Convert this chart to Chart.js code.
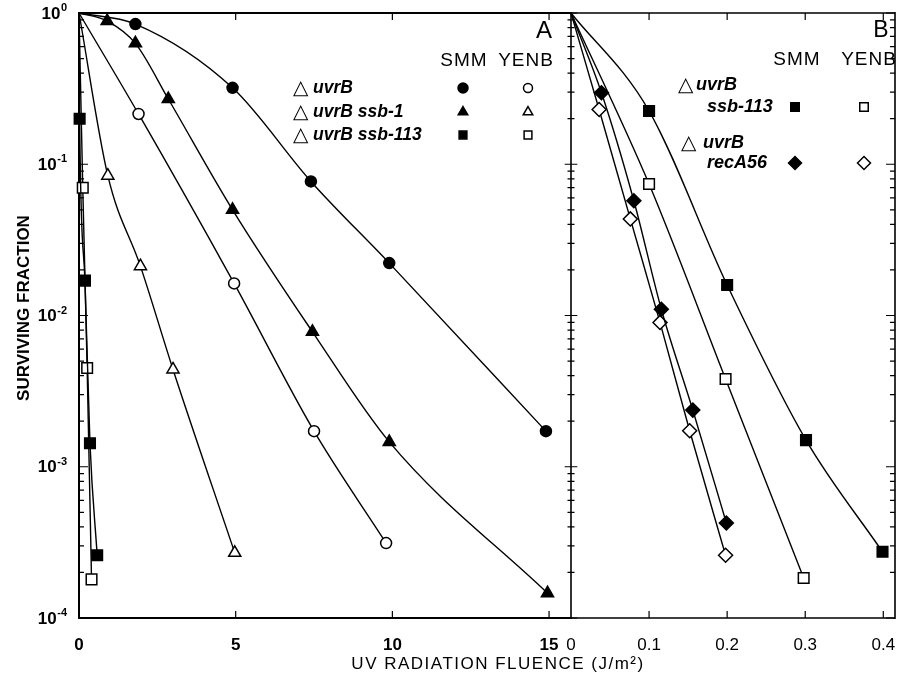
<!DOCTYPE html>
<html>
<head>
<meta charset="utf-8">
<script src="https://cdn.jsdelivr.net/npm/chart.js@4.4.1/dist/chart.umd.min.js"></script>
<style>
  html, body { margin: 0; padding: 0; background: #fff; }
  #wrap { position: relative; width: 904px; height: 679px; }
  #wrap canvas { position: absolute; left: 0; top: 0; }
</style>
</head>
<body>
<div id="wrap">
  <canvas id="cA" width="904" height="679"></canvas>
  <canvas id="cB" width="904" height="679"></canvas>
</div>
<script>
// ── Panel A: survival vs UV fluence (J/m²) ──────────────────────────────────
const uvrbSmmDose   = [0, 1.8, 4.9, 7.4, 9.9, 14.9];
const uvrbSmmSurv   = [1, 0.845, 0.32, 0.077, 0.0222, 0.00172];
const uvrbYenbDose  = [0, 1.9, 4.95, 7.5, 9.8];
const uvrbYenbSurv  = [1, 0.215, 0.0163, 0.00172, 0.000313];
const ssb1SmmDose   = [0, 0.9, 1.8, 2.85, 4.9, 7.45, 9.9, 14.95];
const ssb1SmmSurv   = [1, 0.885, 0.63, 0.27, 0.05, 0.0078, 0.00146, 0.000146];
const ssb1YenbDose  = [0, 0.92, 1.96, 3.0, 4.97];
const ssb1YenbSurv  = [1, 0.084, 0.0212, 0.0044, 0.00027];
const ssb113SmmDose = [0, 0.02, 0.19, 0.35, 0.58];
const ssb113SmmSurv = [1, 0.2, 0.017, 0.00143, 0.00026];
const ssb113YenbDose = [0, 0.12, 0.26, 0.4];
const ssb113YenbSurv = [1, 0.07, 0.0045, 0.00018];

// ── Panel B ─────────────────────────────────────────────────────────────────
const bSsbSmmDose   = [0, 0.1, 0.2, 0.301, 0.399];
const bSsbSmmSurv   = [1, 0.225, 0.0159, 0.0015, 0.000274];
const bSsbYenbDose  = [0, 0.1, 0.198, 0.298];
const bSsbYenbSurv  = [1, 0.074, 0.0038, 0.000184];
const bRecSmmDose   = [0, 0.039, 0.0805, 0.1157, 0.156, 0.199];
const bRecSmmSurv   = [1, 0.297, 0.0574, 0.011, 0.00237, 0.000425];
const bRecYenbDose  = [0, 0.036, 0.076, 0.114, 0.152, 0.198];
const bRecYenbSurv  = [1, 0.23, 0.0435, 0.009, 0.00173, 0.00026];

// ── Axis ticks ──────────────────────────────────────────────────────────────
const xTicksA  = [0, 5, 10, 15];
const xLabelsA = ['0', '5', '10', '15'];
const xTicksB  = [0, 0.1, 0.2, 0.3, 0.4];
const xLabelsB = ['0', '0.1', '0.2', '0.3', '0.4'];
const yExponents = [0, -1, -2, -3, -4];
const yExpLabels = ['0', '-1', '-2', '-3', '-4'];
const yMinorSteps = [2, 3, 4, 5, 6, 7, 8, 9];

const F = '"Liberation Sans", Arial, Helvetica, sans-serif';

function logTicks() {
    const t = [];
    yExponents.forEach(e => {
        t.push({ value: Math.pow(10, e), dec: true });
        if (e < 0) yMinorSteps.forEach(m => t.push({ value: m * Math.pow(10, e), dec: false }));
    });
    return t.sort((a, b) => a.value - b.value);
}

function series(label, dose, surv, style, filled, r) {
    return {
        label,
        data: dose.map((x, i) => ({ x, y: surv[i] })),
        showLine: true,
        borderColor: '#000',
        borderWidth: 1.4,
        cubicInterpolationMode: 'monotone',
        fill: false,
        clip: false,
        pointStyle: style,
        pointRadius: c => c.dataIndex === 0 ? 0 : r,
        pointBackgroundColor: filled ? '#000' : '#fff',
        pointBorderColor: '#000',
        pointBorderWidth: 1.5,
    };
}

// ── Frame + inward tick marks ───────────────────────────────────────────────
const framePlugin = {
    id: 'frameTicks',
    beforeDatasetsDraw(chart, args, o) {
        const { ctx, chartArea: a, scales: { x, y } } = chart;
        ctx.save();
        ctx.strokeStyle = '#000';
        ctx.lineWidth = o.frameWidth;
        ctx.beginPath();
        if (o.left) { ctx.moveTo(a.left, a.top - 1); ctx.lineTo(a.left, a.bottom + 1); }
        if (o.right) { ctx.moveTo(a.right, a.top - 1); ctx.lineTo(a.right, a.bottom + 1); }
        ctx.moveTo(a.left, a.top); ctx.lineTo(a.right, a.top);
        ctx.moveTo(a.left, a.bottom); ctx.lineTo(a.right, a.bottom);
        ctx.stroke();

        ctx.lineWidth = 1.2;
        ctx.beginPath();
        y.ticks.forEach(t => {
            const py = y.getPixelForValue(t.value);
            const len = t.dec ? 9 : 5;
            if (o.left === 'in')    { ctx.moveTo(a.left, py);  ctx.lineTo(a.left + len, py); }
            if (o.left === 'cross') { ctx.moveTo(a.left - len * 0.7, py); ctx.lineTo(a.left + len * 0.7, py); }
            if (o.right === 'in')   { ctx.moveTo(a.right, py); ctx.lineTo(a.right - len, py); }
        });
        x.ticks.forEach(t => {
            if (t.value === 0) return;
            const px = x.getPixelForValue(t.value);
            ctx.moveTo(px, a.bottom); ctx.lineTo(px, a.bottom - 7);
            ctx.moveTo(px, a.top);    ctx.lineTo(px, a.top + 7);
        });
        ctx.stroke();
        ctx.restore();
    },
    afterDraw(chart, args, o) {
        if (!o.yLabels) return;
        const { ctx, chartArea: a, scales: { y } } = chart;
        ctx.save();
        ctx.fillStyle = '#000';
        ctx.textBaseline = 'middle';
        yExponents.forEach((e, i) => {
            const py = y.getPixelForValue(Math.pow(10, e));
            const right = a.left - 12;
            ctx.font = `bold 11px ${F}`;
            const sw = ctx.measureText(yExpLabels[i]).width;
            ctx.textAlign = 'left';
            ctx.fillText(yExpLabels[i], right - sw, py - 5);
            ctx.font = `bold 17px ${F}`;
            ctx.textAlign = 'right';
            ctx.fillText('10', right - sw - 0.5, py + 1);
        });
        ctx.restore();
    },
};

// ── Axis titles (shared by both panels) ─────────────────────────────────────
const titlePlugin = {
    id: 'titles',
    afterDraw(chart) {
        const { ctx } = chart;
        ctx.save();
        ctx.fillStyle = '#000';
        ctx.textAlign = 'center';
        ctx.textBaseline = 'middle';
        ctx.translate(24, 308);
        ctx.rotate(-Math.PI / 2);
        ctx.font = `bold 17px ${F}`;
        ctx.fillText('SURVIVING FRACTION', 0, 0);
        ctx.restore();

        ctx.save();
        ctx.fillStyle = '#000';
        ctx.textAlign = 'center';
        ctx.textBaseline = 'middle';
        ctx.font = `17px ${F}`;
        ctx.letterSpacing = '1.5px';
        ctx.fillText('UV RADIATION FLUENCE (J/m²)', 498, 664);
        ctx.restore();
    },
};

// ── Key tables (SMM / YENB columns) ─────────────────────────────────────────
const keyPlugin = {
    id: 'panelKey',
    afterDraw(chart, args, o) {
        const { ctx } = chart;
        ctx.save();
        ctx.fillStyle = '#000';
        ctx.textBaseline = 'middle';

        ctx.textAlign = 'center';
        ctx.font = `${o.letter[3]}px ${F}`;
        ctx.fillText(o.letter[0], o.letter[1], o.letter[2]);

        ctx.font = `19px ${F}`;
        ctx.letterSpacing = '1px';
        o.heads.forEach(h => ctx.fillText(h[0], h[1], h[2]));
        ctx.letterSpacing = '0px';

        ctx.textAlign = 'left';
        ctx.font = `20px "DejaVu Sans", sans-serif`;
        o.deltas.forEach(d => ctx.fillText('△', d[0], d[1]));
        ctx.font = `italic bold ${o.textSize}px ${F}`;
        o.labels.forEach(l => ctx.fillText(l[0], l[1], l[2]));

        o.marks.forEach(m => {
            const d = chart.data.datasets[m[0]];
            ctx.fillStyle = d.pointBackgroundColor;
            ctx.strokeStyle = '#000';
            ctx.lineWidth = 1.5;
            Chart.helpers.drawPoint(ctx, { pointStyle: d.pointStyle, radius: m[3], rotation: 0, borderWidth: 1.5 }, m[1], m[2]);
        });
        ctx.restore();
    },
};

function xScale(max, ticks, labels, weight) {
    return {
        type: 'linear', min: 0, max,
        afterBuildTicks: s => { s.ticks = ticks.map(v => ({ value: v })); },
        ticks: { autoSkip: false, maxRotation: 0, padding: 9, color: '#000',
                 font: { family: F, size: 17, weight }, callback: (v, i) => labels[i] },
        grid: { display: false }, border: { display: false },
        afterFit: s => { s.height = 61; s.paddingLeft = 0; s.paddingRight = 0; },
    };
}

function yScale(width) {
    return {
        type: 'logarithmic', min: 1e-4, max: 1,
        afterBuildTicks: s => { s.ticks = logTicks(); },
        ticks: { display: false, autoSkip: false },
        grid: { display: false }, border: { display: false },
        afterFit: s => { s.width = width; s.paddingTop = 0; s.paddingBottom = 0; },
    };
}

new Chart(document.getElementById('cA'), {
    type: 'scatter',
    data: { datasets: [
        series('ΔuvrB SMM',         uvrbSmmDose,    uvrbSmmSurv,    'circle',   true,  5.5),
        series('ΔuvrB YENB',        uvrbYenbDose,   uvrbYenbSurv,   'circle',   false, 5.5),
        series('ΔuvrB ssb-1 SMM',   ssb1SmmDose,    ssb1SmmSurv,    'triangle', true,  7),
        series('ΔuvrB ssb-1 YENB',  ssb1YenbDose,   ssb1YenbSurv,   'triangle', false, 7),
        series('ΔuvrB ssb-113 SMM', ssb113SmmDose,  ssb113SmmSurv,  'rect',     true,  7.5),
        series('ΔuvrB ssb-113 YENB', ssb113YenbDose, ssb113YenbSurv, 'rect',    false, 7.5),
    ]},
    options: {
        responsive: false, animation: false,
        layout: { padding: { left: 0, top: 13, right: 333, bottom: 0 } },
        plugins: {
            legend: { display: false }, tooltip: { enabled: false },
            frameTicks: { frameWidth: 2, left: 'in', right: null, yLabels: true },
            panelKey: {
                letter: ['A', 544, 31, 24],
                heads: [['SMM', 464, 61], ['YENB', 526, 61]],
                deltas: [[293, 89], [293, 113], [293, 136]],
                labels: [['uvrB', 313, 88], ['uvrB ssb-1', 313, 112], ['uvrB ssb-113', 313, 135]],
                textSize: 17.5,
                marks: [[0, 463, 88, 5], [1, 528, 88, 4.5], [2, 463, 112, 5.5], [3, 528, 112, 5.5], [4, 463, 135, 5.5], [5, 528, 135, 5.5]],
            },
        },
        scales: { x: xScale(15.7, xTicksA, xLabelsA, 'bold'), y: yScale(79) },
    },
    plugins: [framePlugin, keyPlugin, titlePlugin],
});

new Chart(document.getElementById('cB'), {
    type: 'scatter',
    data: { datasets: [
        series('ΔuvrB ssb-113 SMM',  bSsbSmmDose,  bSsbSmmSurv,  'rect',    true,  7.5),
        series('ΔuvrB ssb-113 YENB', bSsbYenbDose, bSsbYenbSurv, 'rect',    false, 7.5),
        series('ΔuvrB recA56 SMM',   bRecSmmDose,  bRecSmmSurv,  'rectRot', true,  7),
        series('ΔuvrB recA56 YENB',  bRecYenbDose, bRecYenbSurv, 'rectRot', false, 7),
    ]},
    options: {
        responsive: false, animation: false,
        layout: { padding: { left: 571, top: 13, right: 1, bottom: 0 } },
        plugins: {
            legend: { display: false }, tooltip: { enabled: false },
            frameTicks: { frameWidth: 1.6, left: 'cross', right: 'in', yLabels: false },
            panelKey: {
                letter: ['B', 881, 31, 23],
                heads: [['SMM', 797, 60], ['YENB', 869, 60]],
                deltas: [[678, 86], [681, 144]],
                labels: [['uvrB', 696, 85], ['ssb-113', 707, 107], ['uvrB', 703, 143], ['recA56', 707, 163]],
                textSize: 18,
                marks: [[0, 795, 107, 6], [1, 864, 107, 6], [2, 795, 163, 6.5], [3, 864, 163, 6.5]],
            },
        },
        scales: { x: xScale(0.415, xTicksB, xLabelsB, 'normal'), y: yScale(0) },
    },
    plugins: [framePlugin, keyPlugin],
});
</script>
</body>
</html>
